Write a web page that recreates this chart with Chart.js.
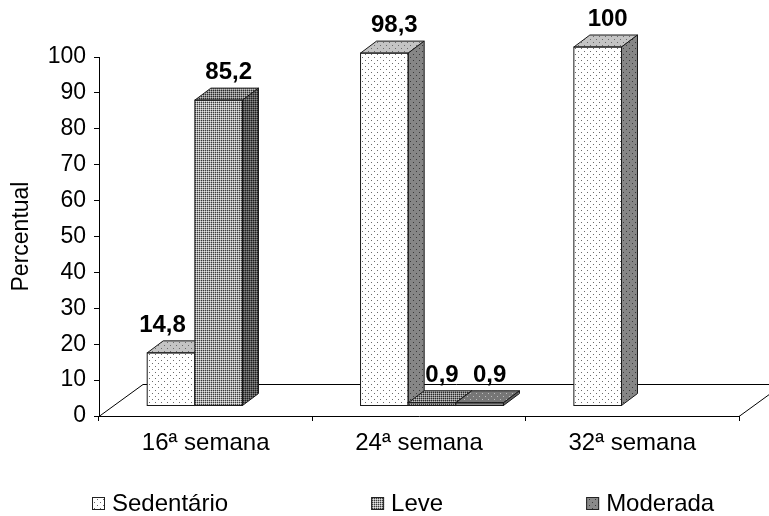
<!DOCTYPE html>
<html>
<head>
<meta charset="utf-8">
<script src="https://cdn.jsdelivr.net/npm/chart.js@4.4.1/dist/chart.umd.min.js"></script>
<style>
html,body{margin:0;padding:0;background:#fff;overflow:hidden;}
#c{display:block;}
</style>
</head>
<body>
<canvas id="c" width="769" height="516"></canvas>
<script>
// ---- data ----
const categories = ['16ª semana', '24ª semana', '32ª semana'];
const seriesNames = ['Sedentário', 'Leve', 'Moderada'];
const sedentario = [14.8, 98.3, 100];
const leve = [85.2, 0.9, 0];
const moderada = [0, 0.9, 0];
const yTicks = [0, 10, 20, 30, 40, 50, 60, 70, 80, 90, 100];
const yTitle = 'Percentual';

// ---- patterns ----
function tile(w, h, paint) {
  const c = document.createElement('canvas');
  c.width = w; c.height = h;
  const x = c.getContext('2d');
  paint(x);
  return c;
}
function dotPattern(bg, dot) {
  const t = tile(6, 6, x => {
    x.fillStyle = bg; x.fillRect(0, 0, 6, 6);
    x.fillStyle = dot; x.fillRect(1, 1, 1, 1); x.fillRect(4, 4, 1, 1);
  });
  return document.getElementById('c').getContext('2d').createPattern(t, 'repeat');
}
function checkPattern(dark, mid, light) {
  const t = tile(4, 4, x => {
    for (let i = 0; i < 4; i++) for (let j = 0; j < 4; j++) {
      if (i % 2 === 0 && j % 2 === 0) x.fillStyle = dark;
      else if ((i + j) % 2 === 1) x.fillStyle = mid;
      else x.fillStyle = light;
      x.fillRect(i, j, 1, 1);
    }
  });
  return document.getElementById('c').getContext('2d').createPattern(t, 'repeat');
}
const styles = [
  { front: dotPattern('#ffffff', '#6a6a6a'), top: dotPattern('#c4c4c4', '#6a6a6a'), side: dotPattern('#868686', '#3a3a3a') },
  { front: checkPattern('#3c3c3c', '#a8a8a8', '#e6e6e6'), top: checkPattern('#2a2a2a', '#858585', '#c4c4c4'), side: checkPattern('#1e1e1e', '#555555', '#8a8a8a') },
  { front: dotPattern('#8a8a8a', '#3c3c3c'), top: dotPattern('#767676', '#bdbdbd'), side: dotPattern('#5e5e5e', '#9a9a9a') }
];

const FONT = "'Liberation Sans', Arial, Helvetica, sans-serif";
const SHIFT_X = 13, SHIFT_Y = -10;   // bars stand in the middle of the floor depth
const DX = 16, DY = -12;              // bar depth
const FLOOR_DX = 44, FLOOR_DY = -32;  // floor depth
const EDGE = '#1a1a1a';

function fmt(v) { return String(v).replace('.', ','); }

const bar3d = {
  id: 'bar3d',
  beforeDatasetsDraw(chart) {
    const ctx = chart.ctx, a = chart.chartArea;
    const y0 = Math.round(chart.scales.y.getPixelForValue(0));
    ctx.save();
    ctx.strokeStyle = '#000'; ctx.lineWidth = 1;
    ctx.beginPath();
    ctx.moveTo(a.left, y0 + 0.5);
    ctx.lineTo(a.left + FLOOR_DX, y0 + FLOOR_DY + 0.5);
    ctx.lineTo(a.right + FLOOR_DX, y0 + FLOOR_DY + 0.5);
    ctx.lineTo(a.right, y0 + 0.5);
    ctx.stroke();
    ctx.restore();
  },
  beforeDatasetDraw() { return false; },
  afterDatasetsDraw(chart) {
    const ctx = chart.ctx;
    const items = [];
    chart.data.datasets.forEach((ds, di) => {
      chart.getDatasetMeta(di).data.forEach((el, i) => {
        const v = ds.data[i];
        if (!v) return;
        items.push({ el, di, i, v });
      });
    });
    items.sort((p, q) => p.el.x - q.el.x);
    items.forEach(it => {
      const { x, y, base, width } = it.el.getProps(['x', 'y', 'base', 'width'], true);
      const st = styles[it.di];
      const x0 = x - width / 2, x1 = x + width / 2;
      ctx.save();
      ctx.translate(SHIFT_X, SHIFT_Y);
      it.el.draw(ctx);
      ctx.lineWidth = 1; ctx.strokeStyle = EDGE; ctx.lineJoin = 'miter';
      // top face
      ctx.beginPath();
      ctx.moveTo(x0, y); ctx.lineTo(x0 + DX, y + DY); ctx.lineTo(x1 + DX, y + DY); ctx.lineTo(x1, y); ctx.closePath();
      ctx.fillStyle = st.top; ctx.fill(); ctx.stroke();
      // side face
      ctx.beginPath();
      ctx.moveTo(x1, y); ctx.lineTo(x1 + DX, y + DY); ctx.lineTo(x1 + DX, base + DY); ctx.lineTo(x1, base); ctx.closePath();
      ctx.fillStyle = st.side; ctx.fill(); ctx.stroke();
      // front outline
      ctx.strokeRect(x0, y, width, base - y);
      ctx.restore();
    });
    // value labels
    ctx.save();
    ctx.font = 'bold 24px ' + FONT;
    ctx.fillStyle = '#000';
    ctx.textAlign = 'center';
    ctx.textBaseline = 'alphabetic';
    items.forEach(it => {
      const { x, y, width } = it.el.getProps(['x', 'y', 'width'], true);
      const txt = fmt(it.v);
      const w = ctx.measureText(txt).width;
      let cx = x + SHIFT_X + DX / 2 + 2;
      const by = y + SHIFT_Y + DY - 9;
      const next = items.find(o => o.i === it.i && o.di === it.di + 1);
      if (next) {
        const nl = next.el.x - width / 2 + SHIFT_X;
        if (next.el.y + SHIFT_Y < by && cx + w / 2 > nl - 9) cx = nl - 9 - w / 2;
      }
      ctx.fillText(txt, cx, by);
    });
    ctx.restore();
  },
  afterDraw(chart) {
    // legend
    const ctx = chart.ctx;
    ctx.save();
    ctx.font = '24px ' + FONT;
    ctx.textBaseline = 'alphabetic';
    ctx.textAlign = 'left';
    let x = chart.chartArea.left - 7;
    const base = 511, gap = 143, box = 13;
    chart.data.datasets.forEach((ds, di) => {
      ctx.fillStyle = styles[di].front;
      ctx.fillRect(x, base - 14, box, box);
      ctx.strokeStyle = '#222'; ctx.lineWidth = 1;
      ctx.strokeRect(x + 0.5, base - 14 + 0.5, box - 1, box - 1);
      ctx.fillStyle = '#000';
      ctx.fillText(ds.label, x + 20, base);
      x += 20 + ctx.measureText(ds.label).width + gap;
    });
    ctx.restore();
  }
};

const datasetValues = [sedentario, leve, moderada];
new Chart(document.getElementById('c'), {
  type: 'bar',
  data: {
    labels: categories,
    datasets: seriesNames.map((name, k) => ({
      label: name,
      data: datasetValues[k],
      backgroundColor: styles[k].front,
      borderColor: EDGE,
      borderWidth: 0,
      borderSkipped: false
    }))
  },
  options: {
    responsive: false,
    animation: false,
    devicePixelRatio: 1,
    layout: { padding: { top: 57, right: 30, bottom: 60, left: 0 } },
    datasets: { bar: { categoryPercentage: 0.67, barPercentage: 1 } },
    plugins: { legend: { display: false }, tooltip: { enabled: false } },
    scales: {
      x: {
        grid: { offset: true, drawOnChartArea: false, tickLength: 5, color: '#000' },
        border: { color: '#000' },
        ticks: { font: { size: 24, family: FONT }, color: '#000', padding: 8, maxRotation: 0 },
        afterFit: s => { s.height = 40; }
      },
      y: {
        min: 0, max: 100,
        afterBuildTicks: s => { s.ticks = yTicks.map(v => ({ value: v })); },
        grid: { drawOnChartArea: false, tickLength: 5, color: '#000' },
        border: { color: '#000' },
        ticks: { font: { size: 23, family: FONT }, color: '#000', padding: 8 },
        title: { display: true, text: yTitle, font: { size: 23, family: FONT }, color: '#000', padding: { top: 8, bottom: 0 } },
        afterFit: s => { s.width = 99; }
      }
    }
  },
  plugins: [bar3d]
});
</script>
</body>
</html>
